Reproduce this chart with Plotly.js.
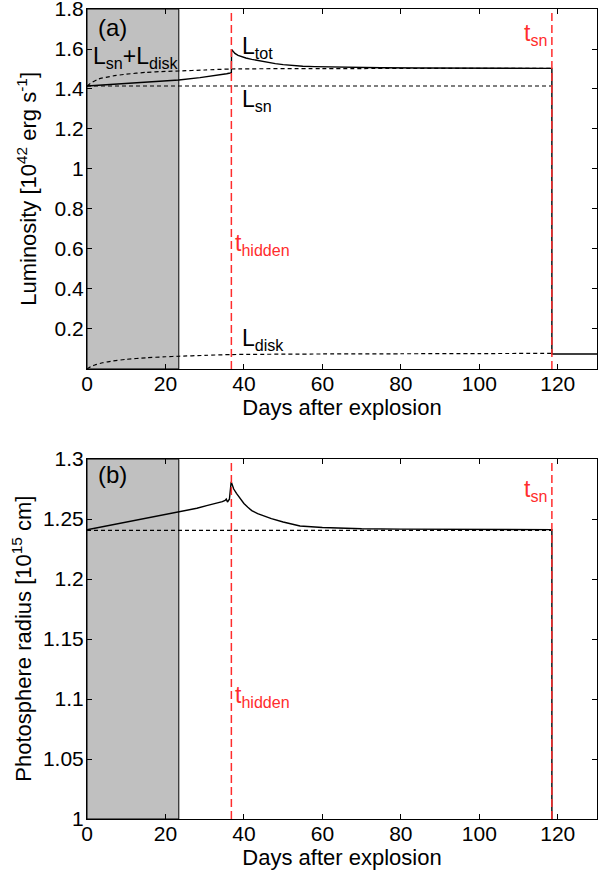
<!DOCTYPE html>
<html><head><meta charset="utf-8">
<script src="https://cdn.plot.ly/plotly-3.0.1.min.js"></script>
<style>body{margin:0;padding:0;background:#fff}#c{width:598px;height:873px}</style>
</head><body><div id="c"></div>
<script>
// ---- Panel (a): luminosity [1e42 erg/s] ----
const tTot  = [0, 10, 20, 23.4, 28.8, 33, 35.6, 36.5, 36.8, 36.85, 37.2, 37.7, 38.5, 39.5, 40.5, 42, 44, 46, 48, 50, 52, 55, 58, 62, 67, 75, 85, 100, 118.5, 118.5, 130];
const LTot  = [1.415, 1.427, 1.44, 1.445, 1.457, 1.467, 1.476, 1.48, 1.482, 1.598, 1.588, 1.578, 1.568, 1.56, 1.555, 1.548, 1.54, 1.533, 1.527, 1.522, 1.518, 1.514, 1.512, 1.51, 1.508, 1.506, 1.505, 1.504, 1.503, 0.075, 0.075];
const tSn   = [0, 118.5];
const LSn   = [1.415, 1.415];
const tSum  = [0, 1, 3, 6.6, 10, 15, 20, 23.4, 30, 36.8, 60, 118.5];
const LSum  = [1.415, 1.43, 1.45, 1.465, 1.474, 1.483, 1.488, 1.49, 1.495, 1.5, 1.502, 1.503];
const tDisk = [0, 1, 2, 4, 6.6, 10, 15, 20, 23.4, 30, 36.8, 60, 80, 100, 118.5];
const LDisk = [0, 0.012, 0.02, 0.031, 0.04, 0.048, 0.056, 0.061, 0.0635, 0.068, 0.072, 0.075, 0.076, 0.077, 0.078];

// ---- Panel (b): photosphere radius [1e15 cm] ----
const tR    = [0, 23.4, 28, 30.5, 33, 34.5, 35.2, 35.5, 35.8, 36.3, 36.75, 37.0, 37.4, 38.1, 39, 40, 41, 42, 43.5, 45, 47, 50, 54.3, 60, 65, 70, 80, 100, 118.5, 118.5];
const R     = [1.241, 1.256, 1.259, 1.2612, 1.263, 1.2645, 1.2655, 1.2667, 1.2642, 1.2665, 1.281, 1.2785, 1.275, 1.2714, 1.267, 1.263, 1.2598, 1.257, 1.2545, 1.2525, 1.2503, 1.2475, 1.2442, 1.243, 1.2424, 1.2419, 1.2416, 1.2414, 1.2412, 0.9];
const tR0   = [0, 118.5];
const R0    = [1.2405, 1.2405];

// ---- markers / labels ----
const tHidden = 36.8;
const tSnEnd  = 118.5;
const tShade  = 23.4;
const xTicks  = [0, 20, 40, 60, 80, 100, 120];
const yTicksA = [0.2, 0.4, 0.6, 0.8, 1, 1.2, 1.4, 1.6, 1.8];
const yTextA  = ['0.2', '0.4', '0.6', '0.8', '1', '1.2', '1.4', '1.6', '1.8'];
const yTicksB = [1, 1.05, 1.1, 1.15, 1.2, 1.25, 1.3];
const yTextB  = ['1', '1.05', '1.1', '1.15', '1.2', '1.25', '1.3'];
const yTitleA = 'Luminosity [10<sup>42</sup> erg s<sup>-1</sup>]';
const yTitleB = 'Photosphere radius [10<sup>15</sup> cm]';

const F = 'Liberation Sans, Arial, sans-serif';
const solid = {color: 'black', width: 1.4};
const dashed = {color: 'black', width: 1.2, dash: '4px,3px'};
const RED = 'rgb(255,45,45)';

const traces = [
  {x: tSn, y: LSn, mode: 'lines', line: dashed, xaxis: 'x', yaxis: 'y'},
  {x: tSum, y: LSum, mode: 'lines', xaxis: 'x', yaxis: 'y', line: Object.assign({}, dashed, {shape: 'spline', smoothing: 0.6})},
  {x: tDisk, y: LDisk, mode: 'lines', xaxis: 'x', yaxis: 'y', line: Object.assign({}, dashed, {shape: 'spline', smoothing: 0.6})},
  {x: tTot, y: LTot, mode: 'lines', line: solid, xaxis: 'x', yaxis: 'y'},
  {x: tR0, y: R0, mode: 'lines', line: dashed, xaxis: 'x2', yaxis: 'y2'},
  {x: tR, y: R, mode: 'lines', line: solid, xaxis: 'x2', yaxis: 'y2'}
];

const axCommon = {
  showgrid: false, zeroline: false, showline: true, linecolor: 'black', linewidth: 1,
  mirror: 'ticks', ticks: 'inside', ticklen: 5, tickcolor: 'black', tickwidth: 1,
  ticklabeloverflow: 'allow',
  tickfont: {family: F, size: 21, color: 'black'}
};

function xa(anchor){
  return Object.assign({}, axCommon, {
    range: [0, 130], anchor: anchor, tickvals: xTicks, ticktext: xTicks.map(String),
    ticklabelstandoff: -4,
    title: {text: 'Days after explosion', font: {family: F, size: 22, color: 'black'}, standoff: 0}
  });
}

const shapes = [];
[['x','y'],['x2','y2']].forEach(function(p){
  shapes.push({type: 'rect', xref: p[0], yref: p[1] + ' domain', x0: 0, x1: tShade, y0: 0, y1: 1,
    fillcolor: 'rgb(192,192,192)', line: {color: 'black', width: 1}, layer: 'below'});
  [tHidden, tSnEnd].forEach(function(v){
    shapes.push({type: 'line', xref: p[0], yref: p[1] + ' domain', x0: v, x1: v, y0: 0, y1: 1,
      line: {color: RED, width: 1.5, dash: '8px,4px'}});
  });
});

function ann(xr, yr, x, y, text, color, size){
  return {xref: xr, yref: yr, x: x, y: y, text: text, showarrow: false, xanchor: 'left', yanchor: 'middle',
    font: {family: F, size: size || 23, color: color || 'black'}};
}
function ytitle(yr, x, text){
  return {xref: 'paper', yref: yr + ' domain', x: x, y: 0.5, text: text, showarrow: false,
    textangle: -90, xanchor: 'center', yanchor: 'middle',
    font: {family: F, size: 22, color: 'black'}};
}

const annotations = [
  ann('x','y', 2.2, 1.71, '(a)', 'black', 24),
  ann('x','y', 0.9, 1.56, 'L<sub>sn</sub>+L<sub>disk</sub>'),
  ann('x','y', 38.9, 1.61, 'L<sub>tot</sub>'),
  ann('x','y', 38.9, 1.34, 'L<sub>sn</sub>'),
  ann('x','y', 38.9, 0.145, 'L<sub>disk</sub>'),
  ann('x','y', 37.3, 0.62, 't<sub>hidden</sub>', RED),
  ann('x','y', 110.9, 1.675, 't<sub>sn</sub>', RED),
  ann('x2','y2', 2.2, 1.2867, '(b)', 'black', 24),
  ann('x2','y2', 110.9, 1.274, 't<sub>sn</sub>', RED),
  ann('x2','y2', 37.3, 1.1025, 't<sub>hidden</sub>', RED),
  ytitle('y', -0.118, yTitleA),
  ytitle('y2', -0.128, yTitleB)
];

const layout = {
  width: 598, height: 873,
  margin: {l: 87, r: 1, t: 9, b: 54},
  paper_bgcolor: 'white', plot_bgcolor: 'white',
  showlegend: false,
  xaxis: xa('y'),
  xaxis2: xa('y2'),
  yaxis: Object.assign({}, axCommon, {
    domain: [0.5556, 1], range: [0, 1.8], anchor: 'x', tickvals: yTicksA, ticktext: yTextA,
    ticklabelstandoff: -2
  }),
  yaxis2: Object.assign({}, axCommon, {
    domain: [0, 0.4444], range: [1, 1.3], anchor: 'x2', tickvals: yTicksB, ticktext: yTextB,
    ticklabelstandoff: -2
  }),
  shapes: shapes,
  annotations: annotations
};

Plotly.newPlot('c', traces, layout, {staticPlot: true, displayModeBar: false});
</script></body></html>
